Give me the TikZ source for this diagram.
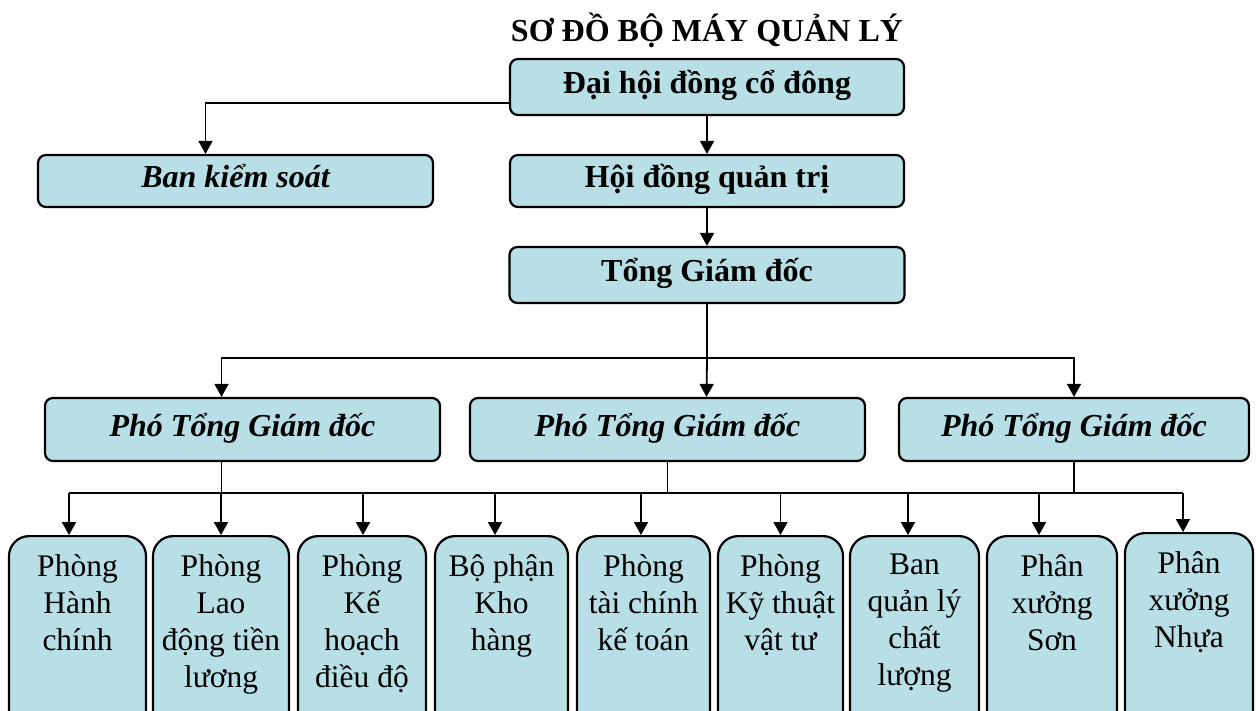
\documentclass[tikz,border=0pt]{standalone}
\usepackage{fontspec}
\setmainfont{Liberation Serif}
\usepackage{tikz}
\usetikzlibrary{arrows.meta}
\tikzset{>={Triangle[length=13pt,width=14pt]}}
\definecolor{boxfill}{RGB}{183,223,229}

\begin{document}
\begin{tikzpicture}[x=1pt, y=-1pt,
		topbox/.style={draw, fill=boxfill, line width=2.2pt, rounded corners=8pt, inner sep=0pt, text height=22pt, text depth=8pt, font=\fontsize{32}{37}\selectfont\bfseries},
		pgdbox/.style={topbox, font=\fontsize{32}{37}\selectfont\bfseries\itshape},
		deptbox/.style={draw, fill=boxfill, line width=2.2pt, rounded corners=20pt, anchor=north, inner xsep=0pt, inner ysep=18pt, font=\fontsize{31.5}{37}\selectfont},
		link/.style={line width=1.8pt}]
			\useasboundingbox (0,0) rectangle (1256,711);
			\clip (0,0) rectangle (1256,711);
			\node (title) at (707,30) [font=\fontsize{32}{37}\selectfont\bfseries] {SƠ ĐỒ BỘ MÁY QUẢN LÝ};
			\node (dhd) at (707,87) [topbox, minimum width=394pt, minimum height=56pt] {Đại hội đồng cổ đông};
			\node (bks) at (235.5,181) [pgdbox, minimum width=395pt, minimum height=52pt] {Ban kiểm soát};
			\node (hdqt) at (707,181) [topbox, minimum width=394pt, minimum height=52pt] {Hội đồng quản trị};
			\node (tgd) at (707,275) [topbox, minimum width=395pt, minimum height=56pt] {Tổng Giám đốc};
			\node (pgd1) at (242.5,429.5) [pgdbox, minimum width=395pt, minimum height=63pt] {Phó Tổng Giám đốc};
			\node (pgd2) at (667.5,429.5) [pgdbox, minimum width=395pt, minimum height=63pt] {Phó Tổng Giám đốc};
			\node (pgd3) at (1074,429.5) [pgdbox, minimum width=350pt, minimum height=63pt] {Phó Tổng Giám đốc};
			\node (hc) at (77.5,535) [deptbox] {\parbox[t][180pt][t]{137pt}{\centering Phòng\\Hành\\chính}};
			\node (ldtl) at (221,535) [deptbox] {\parbox[t][180pt][t]{136pt}{\centering Phòng\\Lao\\động tiền\\lương}};
			\node (khdd) at (362,535) [deptbox] {\parbox[t][180pt][t]{128pt}{\centering Phòng\\Kế\\hoạch\\điều độ}};
			\node (kho) at (501.5,535) [deptbox] {\parbox[t][180pt][t]{133pt}{\centering Bộ phận\\Kho\\hàng}};
			\node (tckt) at (643.5,535) [deptbox] {\parbox[t][180pt][t]{133pt}{\centering Phòng\\tài chính\\kế toán}};
			\node (ktvt) at (780.5,535) [deptbox] {\parbox[t][180pt][t]{125pt}{\centering Phòng\\Kỹ thuật\\vật tư}};
			\node (qlcl) at (914.5,535) [deptbox] {\parbox[t][180pt][t]{129pt}{\centering Ban\\quản lý\\chất\\lượng}};
			\node (son) at (1052,535) [deptbox] {\parbox[t][180pt][t]{130pt}{\centering Phân\\xưởng\\Sơn}};
			\node (nhua) at (1189,532) [deptbox] {\parbox[t][180pt][t]{128pt}{\centering Phân\\xưởng\\Nhựa}};
			\coordinate (top) at (707,358);
			\coordinate (left) at (69,493);
			\coordinate (right) at (1183,493);
			\draw[link,->] ([yshift=-16pt]dhd.west) -| ([xshift=-30pt]bks.north);
			\draw[link,->] (dhd) to (hdqt);
			\draw[link,->] (hdqt) to (tgd);
			\draw[link] (tgd) to (top);
			\draw[link,->] (top) -| ([xshift=-21pt]pgd1.north);
			\draw[link,->] (top) to ([xshift=39pt]pgd2.north);
			\draw[link,->] (top) -| (pgd3.north);
			\draw[link] (left) to (right);
			\draw[link] ([xshift=-21pt]pgd1.south) to ([xshift=-21pt]pgd1.south |- left);
			\draw[link] (pgd2.south) to (pgd2.south |- left);
			\draw[link] (pgd3.south) to (pgd3.south |- left);
			\draw[link,->] (left) to ([xshift=-8.5pt]hc.north);
			\draw[link,->] (ldtl.north |- left) to (ldtl.north);
			\draw[link,->] ([xshift=1pt]khdd.north |- left) to ([xshift=1pt]khdd.north);
			\draw[link,->] ([xshift=-6.5pt]kho.north |- left) to ([xshift=-6.5pt]kho.north);
			\draw[link,->] ([xshift=-2.5pt]tckt.north |- left) to ([xshift=-2.5pt]tckt.north);
			\draw[link,->] (ktvt.north |- left) to (ktvt.north);
			\draw[link,->] ([xshift=-6.5pt]qlcl.north |- left) to ([xshift=-6.5pt]qlcl.north);
			\draw[link,->] ([xshift=-13pt]son.north |- left) to ([xshift=-13pt]son.north);
			\draw[link,->] (right) to ([xshift=-6pt]nhua.north);
		\end{tikzpicture}
\end{document}
